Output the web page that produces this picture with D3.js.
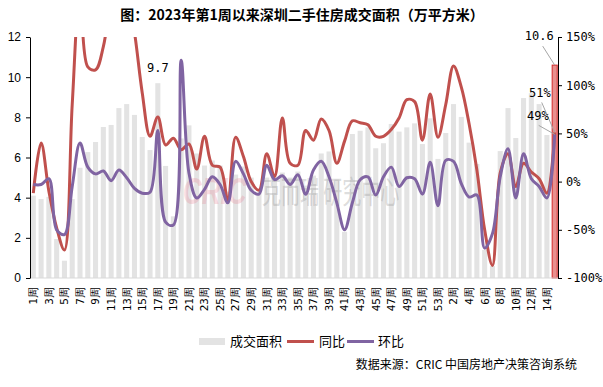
<!DOCTYPE html>
<meta charset="utf-8">
<style>
body { margin: 0; background: #fff; }
.bar { fill: #e3e3e3; }
.bar.last { fill: #e8908e; stroke: #d42a2a; stroke-width: 1px; }
.line { fill: none; stroke-width: 3px; }
.leader { stroke: #a6a6a6; stroke-width: 1px; }
.lab { font-family: "DejaVu Sans Mono", monospace; font-size: 11px; fill: #000; }
</style>
<body>
<script src="https://d3js.org/d3.v7.min.js"></script>
<script>

// week numbers: 2023 wk1-53, then 2024 wk1-15
var weeks = [1,2,3,4,5,6,7,8,9,10,11,12,13,14,15,16,17,18,19,20,21,22,23,24,25,26,27,28,29,30,
             31,32,33,34,35,36,37,38,39,40,41,42,43,44,45,46,47,48,49,50,51,52,53,
             1,2,3,4,5,6,7,8,9,10,11,12,13,14,15];

// 成交面积 (万平方米)
var area = [4.1,3.93,4.04,1.94,0.86,3.93,5.49,6.27,6.77,7.52,7.62,8.46,8.66,8.12,7.02,6.37,9.7,5.58,3.07,6.95,
            7.6,6.2,5.6,5.85,5.6,4.3,5.15,5.55,5.0,4.3,5.0,5.0,5.25,5.0,5.3,4.6,5.1,6.2,6.3,4.9,
            2.3,7.17,7.33,7.5,6.46,6.71,7.67,7.29,7.5,7.7,6.67,7.95,5.93,
            7.22,8.66,8.02,6.74,5.68,1.4,0.6,6.32,8.46,6.97,8.96,9.2,8.66,7.12,10.6];

// 同比 (%)
var yoy = [-12,40,-10,-48,-71,80,200,119,116,140,190,220,200,155,92,47,67,38,45,33,
           39,13,47,17,15,-19,46,26,0,-9,29,5,66,19,17,53,43,65,53,19,
           42,63,61,59,47,47,54,66,85,83,43,91,46,
           80,120,98,60,12,-50,-87,9,29,-5,19,10,3,-12,51];

// 环比 (%)
var mom = [-3,-3,3,-50,-55,-5,40,15,8,11,1,12,4,-7,-12,-11,53,-42,-45,126,
           9,-17,-8,5,-3,-22,21,8,-9,-13,17,2,6,-3,7,-13,12,21,5,-22,
           -50,-22,2,5,-14,5,15,-5,4,3,-13,20,-25,
           22,21,-2,-16,-14,-69,-54,5,34,-17,29,3,-5,-17,49];

var leftTicks = [0,2,4,6,8,10,12];
var rightTicks = [-100,-50,0,50,100,150];

var width = 603, height = 387;
var plot = {left: 30, right: 558, top: 37, bottom: 278};

var svg = d3.select("body").append("svg")
    .attr("width", width)
    .attr("height", height);

// scales
var x = d3.scaleBand()
    .domain(d3.range(weeks.length))
    .range([plot.left, plot.right])
    .paddingInner(0.35)
    .paddingOuter(0.1);
var yL = d3.scaleLinear().domain([0, 12]).range([plot.bottom, plot.top]);
var yR = d3.scaleLinear().domain([-100, 150]).range([plot.bottom, plot.top]);
var cx = function(i) { return x(i) + x.bandwidth() / 2; };
var last = weeks.length - 1;

svg.append("clipPath").attr("id", "clip")
  .append("rect")
    .attr("x", plot.left).attr("y", plot.top)
    .attr("width", plot.right - plot.left).attr("height", plot.bottom - plot.top);

// title
svg.append("text")
    .attr("x", 302).attr("y", 20)
    .attr("text-anchor", "middle")
    .style("font-family", "'Noto Sans CJK SC'")
    .style("font-size", "14px")
    .style("font-weight", "bold")
    .text("图：2023年第1周以来深圳二手住房成交面积（万平方米）");

// bars
svg.selectAll(".bar")
    .data(area)
  .enter().append("rect")
    .attr("class", function(d, i) { return i === last ? "bar last" : "bar"; })
    .attr("x", function(d, i) { return x(i); })
    .attr("width", x.bandwidth())
    .attr("y", function(d) { return yL(d); })
    .attr("height", function(d) { return yL(0) - yL(d); });

// baseline
svg.append("line")
    .attr("x1", plot.left).attr("x2", plot.right)
    .attr("y1", plot.bottom).attr("y2", plot.bottom)
    .style("stroke", "#d9d9d9");

// watermark
svg.append("text")
    .attr("transform", "translate(183,204) scale(1,1.45)")
    .style("font-family", "'Liberation Sans'")
    .style("font-size", "26px")
    .style("font-weight", "bold")
    .style("font-style", "italic")
    .style("fill", "rgba(232,120,140,0.25)")
    .text("CRIC");
svg.append("text")
    .attr("transform", "translate(262,203) scale(1,1.6)")
    .style("font-family", "'Noto Sans CJK SC'")
    .style("font-size", "19px")
    .style("fill", "rgba(140,140,140,0.3)")
    .text("克而瑞 研究中心");

// lines
var lineYoy = d3.line()
    .x(function(d, i) { return cx(i); })
    .y(function(d) { return yR(d); })
    .curve(d3.curveCatmullRom.alpha(0.5));

svg.append("path")
    .datum(yoy)
    .attr("class", "line")
    .attr("clip-path", "url(#clip)")
    .style("stroke", "#c0504d")
    .attr("d", lineYoy);

svg.append("path")
    .datum(mom)
    .attr("class", "line")
    .attr("clip-path", "url(#clip)")
    .style("stroke", "#8064a2")
    .attr("d", lineYoy);

// left axis
var gL = svg.append("g")
    .attr("transform", "translate(" + plot.left + ",0)")
    .call(d3.axisLeft(yL).tickValues(leftTicks).tickSize(4).tickSizeOuter(0).tickPadding(5));
gL.selectAll("text")
    .style("font-family", "'Liberation Sans'")
    .style("font-size", "12px");

// right axis
var gR = svg.append("g")
    .attr("transform", "translate(" + plot.right + ",0)")
    .call(d3.axisRight(yR).tickValues(rightTicks).tickSize(4).tickSizeOuter(0).tickPadding(4)
      .tickFormat(function(d) { return d + "%"; }));
gR.selectAll("text")
    .attr("class", "lab")
    .style("font-size", "12px");

gL.selectAll("path, line").style("stroke", "#000");
gR.selectAll("path, line").style("stroke", "#000");

// x labels, every other week
svg.selectAll(".xlab")
    .data(weeks.filter(function(d, i) { return i % 2 === 0; }))
  .enter().append("text")
    .attr("class", "xlab lab")
    .attr("transform", function(d, j) { return "translate(" + cx(j * 2) + ",287) rotate(-90)"; })
    .attr("dy", "0.35em")
    .attr("text-anchor", "end")
    .text(function(d) { return d + "周"; });

// data labels
var i16 = 16;
svg.append("text").attr("class", "lab").style("font-size", "12px")
    .attr("x", cx(i16)).attr("y", yL(area[i16]) - 11)
    .attr("text-anchor", "middle")
    .text(area[i16]);

svg.append("line").attr("class", "leader")
    .attr("x1", cx(last) - 12).attr("y1", yL(area[last]) - 19)
    .attr("x2", cx(last)).attr("y2", yL(area[last]));
svg.append("text").attr("class", "lab").style("font-size", "12px")
    .attr("x", cx(last) - 1).attr("y", yL(area[last]) - 25)
    .attr("text-anchor", "end")
    .text(area[last]);

svg.append("line").attr("class", "leader")
    .attr("x1", cx(last) - 13).attr("y1", yR(yoy[last]) - 30)
    .attr("x2", cx(last)).attr("y2", yR(yoy[last]));
svg.append("text").attr("class", "lab").style("font-size", "12px")
    .attr("x", cx(last) - 4).attr("y", yR(yoy[last]) - 35)
    .attr("text-anchor", "end")
    .text(yoy[last] + "%");

svg.append("line").attr("class", "leader")
    .attr("x1", cx(last) - 16).attr("y1", yR(mom[last]) - 9)
    .attr("x2", cx(last)).attr("y2", yR(mom[last]));
svg.append("text").attr("class", "lab").style("font-size", "12px")
    .attr("x", cx(last) - 6).attr("y", yR(mom[last]) - 14)
    .attr("text-anchor", "end")
    .text(mom[last] + "%");

// legend
var legend = svg.append("g").style("font-family", "'Noto Sans CJK SC'").style("font-size", "13px");
legend.append("rect").attr("x", 199).attr("y", 338).attr("width", 26).attr("height", 7).style("fill", "#e3e3e3");
legend.append("text").attr("x", 230).attr("y", 346).text("成交面积");
legend.append("line").attr("x1", 287).attr("x2", 314).attr("y1", 341.5).attr("y2", 341.5)
    .style("stroke", "#c0504d").style("stroke-width", 3);
legend.append("text").attr("x", 319).attr("y", 346).text("同比");
legend.append("line").attr("x1", 347).attr("x2", 374).attr("y1", 341.5).attr("y2", 341.5)
    .style("stroke", "#8064a2").style("stroke-width", 3);
legend.append("text").attr("x", 378).attr("y", 346).text("环比");

// source
svg.append("text")
    .attr("x", 577).attr("y", 369)
    .attr("text-anchor", "end")
    .style("font-family", "'Noto Sans CJK SC'")
    .style("font-size", "12px")
    .text("数据来源：CRIC 中国房地产决策咨询系统");

</script>
</body>
